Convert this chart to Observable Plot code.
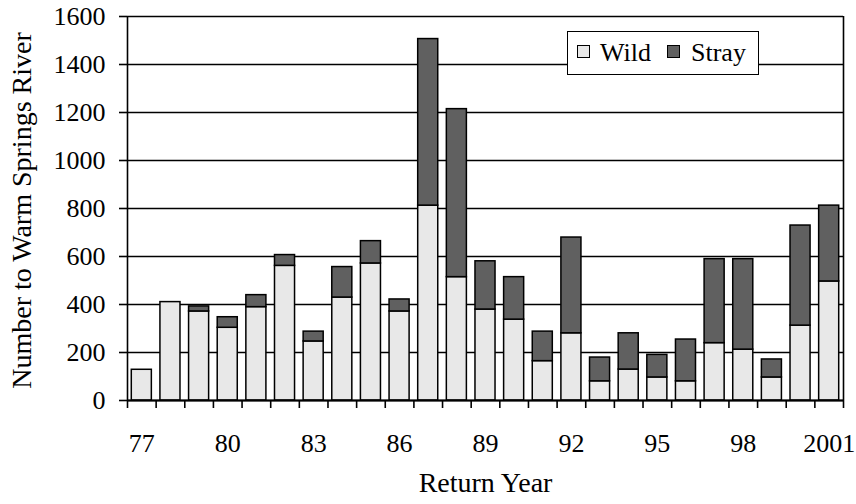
<!DOCTYPE html>
<html>
<head>
<meta charset="utf-8">
<script src="https://cdn.jsdelivr.net/npm/d3@7"></script>
<script src="https://cdn.jsdelivr.net/npm/@observablehq/plot@0.6"></script>
</head>
<body style="margin:0;padding:0;background:#fff">
<div id="wrap" style="position:relative;width:856px;height:504px;font-family:'Liberation Serif';"></div>
<script>
const years = [1977,1978,1979,1980,1981,1982,1983,1984,1985,1986,1987,1988,1989,1990,1991,1992,1993,1994,1995,1996,1997,1998,1999,2000,2001];
const wild  = [128, 410, 371, 303, 389, 561, 246, 429, 571, 371, 812, 514, 379, 337, 164, 280, 80, 129, 96, 80, 239, 212, 96, 312, 496];
const stray = [0, 0, 21, 44, 50, 45, 41, 127, 93, 50, 694, 700, 201, 177, 123, 399, 99, 151, 94, 174, 350, 377, 75, 417, 316];
const yTicks = [0, 200, 400, 600, 800, 1000, 1200, 1400, 1600];
const xLabelYears = [1977, 1980, 1983, 1986, 1989, 1992, 1995, 1998, 2001];
const xLabels = ["77", "80", "83", "86", "89", "92", "95", "98", "2001"];
const seriesNames = ["Wild", "Stray"];
const colors = ["#e8e8e8", "#606060"];

const rows = years.map((yr, i) => ({year: yr, wild: wild[i], stray: stray[i], total: wild[i] + stray[i]}));
const halfBar = 0.35;
const boundaries = years.map(y => y - 0.5).concat([years[years.length - 1] + 0.5]);
const xDomain = [boundaries[0], boundaries[boundaries.length - 1]];
const labelMap = new Map(xLabelYears.map((y, i) => [y, xLabels[i]]));
const serif = "Liberation Serif";

const chart = Plot.plot({
  width: 856,
  height: 504,
  marginLeft: 127,
  marginRight: 13,
  marginTop: 16,
  marginBottom: 104,
  style: {fontFamily: serif, fontSize: "26px", color: "#000", background: "#fff"},
  x: {type: "linear", domain: xDomain},
  y: {domain: [0, 1600]},
  marks: [
    Plot.ruleY(yTicks, {stroke: "#000", strokeWidth: 1.6}),
    Plot.rect(rows, {x1: d => d.year - halfBar, x2: d => d.year + halfBar, y1: 0, y2: "wild", fill: colors[0], stroke: "#000", strokeWidth: 1.5}),
    Plot.rect(rows.filter(d => d.stray > 0), {x1: d => d.year - halfBar, x2: d => d.year + halfBar, y1: "wild", y2: "total", fill: colors[1], stroke: "#000", strokeWidth: 1.5}),
    Plot.ruleX([xDomain[0], xDomain[1]], {stroke: "#000", strokeWidth: 1.6}),
    Plot.ruleY([0], {stroke: "#000", strokeWidth: 2}),
    Plot.axisX({ticks: boundaries, tickSize: 8, tickFormat: () => "", strokeWidth: 1.6, label: null}),
    Plot.axisX({ticks: xLabelYears, tickSize: 0, tickPadding: 33, tickFormat: d => labelMap.get(d), fontSize: 26, label: null}),
    Plot.axisY({ticks: yTicks, tickSize: 8, tickPadding: 14, strokeWidth: 1.6, tickFormat: d => String(d), fontSize: 26, label: null}),
    Plot.text(["Number to Warm Springs River"], {frameAnchor: "left", dx: -105, dy: 2, rotate: -90, fontSize: 28, textAnchor: "middle"}),
    Plot.text(["Return Year"], {frameAnchor: "bottom", dy: 91, fontSize: 28, textAnchor: "middle"})
  ]
});
chart.querySelectorAll("text, g").forEach(el => {
  el.style.fontFamily = serif;
});
const wrap = document.getElementById("wrap");
wrap.appendChild(chart);

// legend box (HTML overlay)
const legend = document.createElement("div");
legend.setAttribute("style", "position:absolute;left:567px;top:31px;width:190px;height:42px;background:#fff;border:1.5px solid #000;font-size:26px;color:#000;font-family:'Liberation Serif';");
const swLeft = [9, 99];
const txtLeft = [32, 123];
seriesNames.forEach((name, i) => {
  const sw = document.createElement("span");
  sw.setAttribute("style", `position:absolute;left:${swLeft[i]}px;top:13px;width:11px;height:11px;border:1.5px solid #000;background:${colors[i]};`);
  const label = document.createElement("span");
  label.setAttribute("style", `position:absolute;left:${txtLeft[i]}px;top:0;line-height:42px;font-family:'Liberation Serif';font-size:26px;white-space:nowrap;`);
  label.textContent = name;
  legend.appendChild(sw);
  legend.appendChild(label);
});
wrap.appendChild(legend);
</script>
</body>
</html>
